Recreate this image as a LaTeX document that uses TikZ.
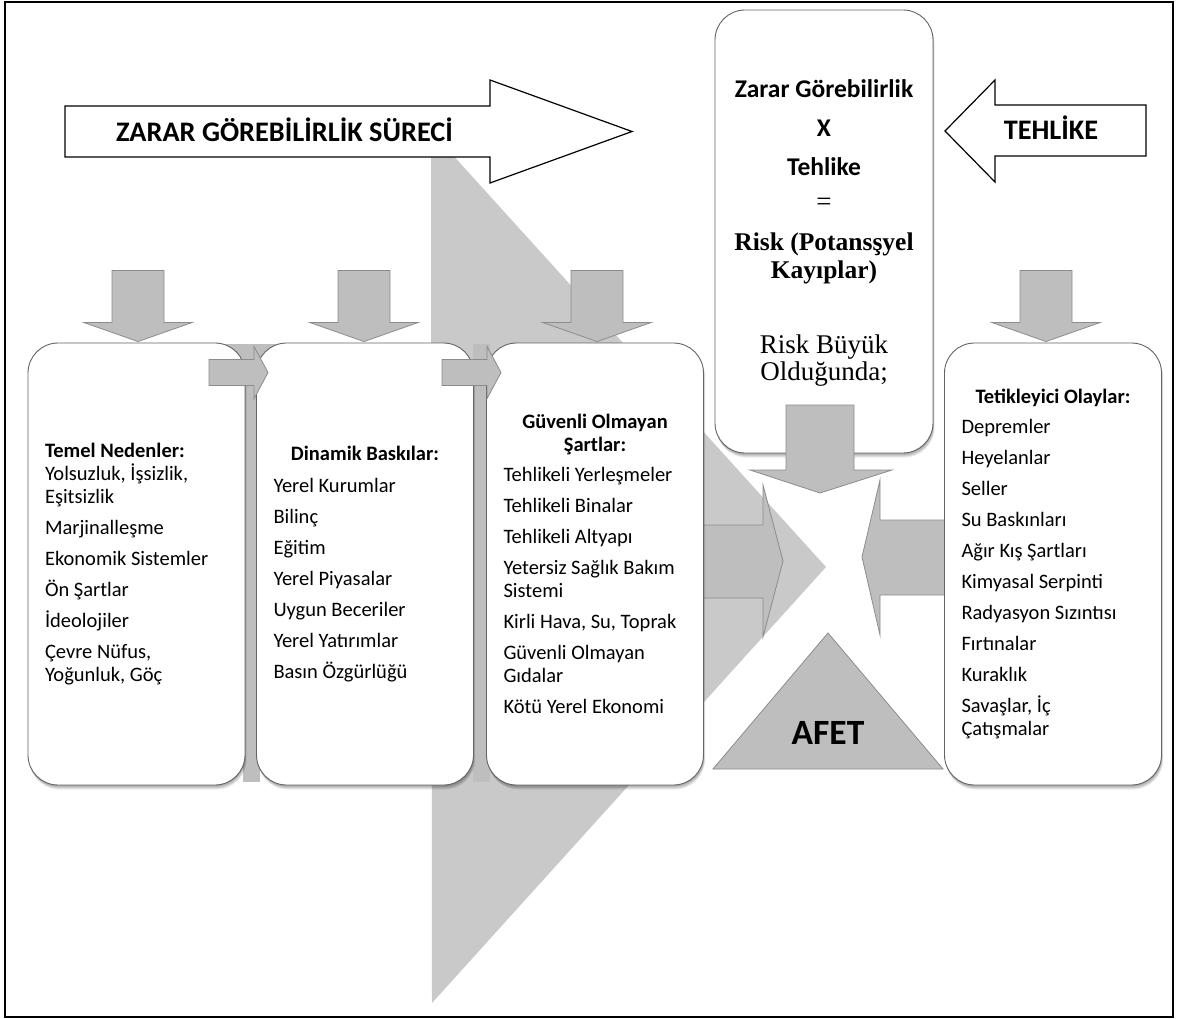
\documentclass[tikz,border=0pt]{standalone}
\usepackage{fontspec}
\setmainfont{Carlito}
\newfontfamily\serifface{Liberation Serif}
\usetikzlibrary{calc,shadows}

\definecolor{trigray}{RGB}{201,201,201}
\definecolor{arrowgray}{RGB}{190,190,190}
\definecolor{arrowedge}{RGB}{140,140,140}
\definecolor{cardedge}{RGB}{100,100,100}

\tikzset{
  frameline/.style={draw=black, line width=1.2pt},
  bigarrow/.style={draw=black, fill=white, line width=1.2pt, line join=miter},
  grayarrow/.style={fill=arrowgray, draw=arrowedge, line width=0.8pt, line join=miter},
  softshadow/.style={general shadow={fill=black, opacity=0.08, shadow xshift=#1*0.3pt, shadow yshift=-#1*0.9pt}},
  card/.style={draw=cardedge, fill=white, line width=0.9pt, rounded corners=30pt,
    inner sep=0pt, minimum width=217pt, minimum height=442pt,
    softshadow=5, softshadow=4, softshadow=3, softshadow=2, softshadow=1},
  itemtext/.style={font=\fontsize{20.5}{23}\selectfont, align=left, inner sep=0pt},
  headline/.style={font=\bfseries\fontsize{28.3}{28}\selectfont, anchor=base, inner sep=0pt},
  eqbold/.style={font=\bfseries\fontsize{25.5}{25}\selectfont, anchor=base, inner sep=0pt},
  eqserif/.style={font=\serifface\fontsize{27}{27}\selectfont, anchor=base, inner sep=0pt},
  eqserifbold/.style={font=\serifface\bfseries\fontsize{25.5}{25}\selectfont, anchor=base, inner sep=0pt},
}

% broad grey arrow pointing down, tip at the given point
\newcommand\grayDown[1]{%
  \draw[grayarrow] (#1) ++(-26,-71) -- ++(52,0) -- ++(0,52) -- ++(28,0)
    -- ++(-54,19) -- ++(-54,-19) -- ++(28,0) -- cycle;}

% small grey arrow pointing right, tip at the given point
\newcommand\grayRight[1]{%
  \draw[grayarrow] (#1) ++(-59,-13) -- ++(45,0) -- ++(0,-13) -- ++(14,26)
    -- ++(-14,26) -- ++(0,-13) -- ++(-45,0) -- cycle;}

\begin{document}
\begin{tikzpicture}[x=1pt, y=-1pt]
\useasboundingbox (0,0) rectangle (1178,1019);
\fill[white] (0,0) rectangle (1178,1019);

% large pale triangle behind the process
\fill[trigray] (431,131) -- (826,567) -- (432,1003) -- cycle;

% grey band linking the cards
\fill[arrowgray] (215,344) rectangle (290,380);
\fill[arrowgray] (243,344) rectangle (260,782);
\fill[arrowgray] (473,344) rectangle (490,782);

% arrows converging on the disaster
\draw[grayarrow] (700,525) -- (763,525) -- (763,485) -- (783,561) -- (763,637) -- (763,598) -- (700,598) -- cycle;
\draw[grayarrow] (950,520) -- (880,520) -- (880,480) -- (862,557) -- (880,635) -- (880,595) -- (950,595) -- cycle;

% cards
\node[card] (temel)    at (136.5,564) {};
\node[card] (dinamik)  at (365,564) {};
\node[card] (guvensiz) at (595,564) {};
\node[card] (tetik)    at (1053,564) {};
\node[card, minimum width=218pt, minimum height=443pt] (risk) at (824,231.5) {};

% arrows between the cards
\grayRight{$(dinamik.north west)+(12,30)$}
\grayRight{$(guvensiz.north west)+(15,30)$}

% arrows feeding each card from above
\coordinate (t1) at ($(temel.north)+(1.5,-1)$);
\coordinate (t2) at ($(dinamik.north)+(-1,-1)$);
\coordinate (t3) at ($(guvensiz.north)+(2,-1)$);
\coordinate (t4) at ($(tetik.north)+(-7,-1)$);
\grayDown{t1}
\grayDown{t2}
\grayDown{t3}
\grayDown{t4}

% arrow from the risk card down to the centre
\draw[grayarrow] (786,405) -- (854,405) -- (854,470) -- (892,470) -- (820,493) -- (750,470) -- (786,470) -- cycle;

% disaster triangle
\draw[grayarrow] (828,633) -- (943,769) -- (713,769) -- cycle;
\node[font=\bfseries\fontsize{35.5}{35}\selectfont, anchor=base, inner sep=0pt] (afet) at (828,744) {AFET};

% big outlined arrows at the top
\draw[bigarrow] (65,106) -- (490,106) -- (490,80) -- (632,131.5) -- (490,183) -- (490,157) -- (65,157) -- cycle;
\node[headline] (surec) at (284.5,142) {ZARAR GÖREBİLİRLİK SÜRECİ};
\draw[bigarrow] (1146,105) -- (995,105) -- (995,80) -- (945,131) -- (995,182) -- (995,156) -- (1146,156) -- cycle;
\node[headline] (tehlike) at (1051,140) {TEHLİKE};

% risk equation
\node[eqbold] (eq1) at (824,98) {Zarar Görebilirlik};
\node[eqbold] (eq2) at (824,137) {X};
\node[eqbold] (eq3) at (824,176) {Tehlike};
\node[eqserif] (eq4) at (824,211) {=};
\node[eqserifbold] (eq5) at (824,251) {Risk (Potansşyel};
\node[eqserifbold] (eq6) at (824,278) {Kayıplar)};
\node[eqserif] (eq7) at (824,353) {Risk Büyük};
\node[eqserif] (eq8) at (824,380) {Olduğunda;};

% card contents
\node[itemtext] (temeltxt) at (temel.center) {%
\makebox[183pt][l]{\bfseries Temel Nedenler:}\\
Yolsuzluk, İşsizlik,\\
Eşitsizlik\\[8pt]
Marjinalleşme\\[8pt]
Ekonomik Sistemler\\[8pt]
Ön Şartlar\\[8pt]
İdeolojiler\\[8pt]
Çevre Nüfus,\\
Yoğunluk, Göç};

\node[itemtext] (dinamiktxt) at (dinamik.center) {%
\makebox[183pt]{\bfseries Dinamik Baskılar:}\\[9pt]
Yerel Kurumlar\\[8pt]
Bilinç\\[8pt]
Eğitim\\[8pt]
Yerel Piyasalar\\[8pt]
Uygun Beceriler\\[8pt]
Yerel Yatırımlar\\[8pt]
Basın Özgürlüğü};

\node[itemtext] (guvensiztxt) at (guvensiz.center) {%
\makebox[183pt]{\bfseries Güvenli Olmayan}\\
\makebox[183pt]{\bfseries Şartlar:}\\[7pt]
Tehlikeli Yerleşmeler\\[8pt]
Tehlikeli Binalar\\[8pt]
Tehlikeli Altyapı\\[8pt]
Yetersiz Sağlık Bakım\\
Sistemi\\[8pt]
Kirli Hava, Su, Toprak\\[8pt]
Güvenli Olmayan\\
Gıdalar\\[8pt]
Kötü Yerel Ekonomi};

\node[itemtext] (tetiktxt) at (tetik.center) {%
\makebox[183pt]{\bfseries Tetikleyici Olaylar:}\\[7pt]
Depremler\\[8pt]
Heyelanlar\\[8pt]
Seller\\[8pt]
Su Baskınları\\[8pt]
Ağır Kış Şartları\\[8pt]
Kimyasal Serpinti\\[8pt]
Radyasyon Sızıntısı\\[8pt]
Fırtınalar\\[8pt]
Kuraklık\\[8pt]
Savaşlar, İç\\
Çatışmalar};

% outer frame
\draw[frameline] (5,2) rectangle (1173,1017);
\end{tikzpicture}
\end{document}
